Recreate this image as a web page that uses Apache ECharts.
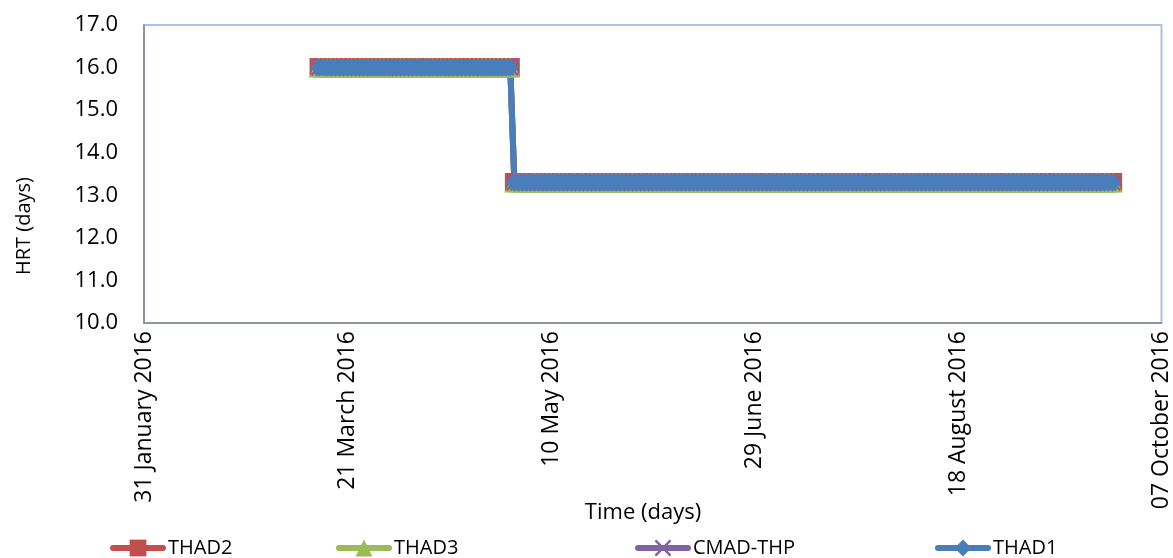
<!DOCTYPE html>
<html>
<head>
<meta charset="utf-8">
<script src="https://cdn.jsdelivr.net/npm/echarts@6/dist/echarts.min.js"></script>
<style>
  html, body { margin: 0; padding: 0; background: #ffffff; }
  #chart { width: 1173px; height: 558px; }
</style>
</head>
<body>
<div id="chart"></div>
<script>
// Time axis: day 0 is 31 January 2016, ticks every 50 days
const axisOrigin = '2016-01-31';
const xTickLabels = ['31 January 2016', '21 March 2016', '10 May 2016', '29 June 2016', '18 August 2016', '07 October 2016'];
const yTickLabels = ['10.0', '11.0', '12.0', '13.0', '14.0', '15.0', '16.0', '17.0'];

// Reactors shown in the legend, in drawing order
const reactorNames = ['THAD2', 'THAD3', 'CMAD-THP', 'THAD1'];

// Daily HRT record (days), first entry on 14 March 2016, last on 25 September 2016
const recordStart = '2016-03-14';
const hrtDaily = [
  16.0, 16.0, 16.0, 16.0, 16.0, 16.0, 16.0, 16.0,
  16.0, 16.0, 16.0, 16.0, 16.0, 16.0, 16.0, 16.0,
  16.0, 16.0, 16.0, 16.0, 16.0, 16.0, 16.0, 16.0,
  16.0, 16.0, 16.0, 16.0, 16.0, 16.0, 16.0, 16.0,
  16.0, 16.0, 16.0, 16.0, 16.0, 16.0, 16.0, 16.0,
  16.0, 16.0, 16.0, 16.0, 16.0, 16.0, 16.0, 16.0,
  13.3, 13.3, 13.3, 13.3, 13.3, 13.3, 13.3, 13.3,
  13.3, 13.3, 13.3, 13.3, 13.3, 13.3, 13.3, 13.3,
  13.3, 13.3, 13.3, 13.3, 13.3, 13.3, 13.3, 13.3,
  13.3, 13.3, 13.3, 13.3, 13.3, 13.3, 13.3, 13.3,
  13.3, 13.3, 13.3, 13.3, 13.3, 13.3, 13.3, 13.3,
  13.3, 13.3, 13.3, 13.3, 13.3, 13.3, 13.3, 13.3,
  13.3, 13.3, 13.3, 13.3, 13.3, 13.3, 13.3, 13.3,
  13.3, 13.3, 13.3, 13.3, 13.3, 13.3, 13.3, 13.3,
  13.3, 13.3, 13.3, 13.3, 13.3, 13.3, 13.3, 13.3,
  13.3, 13.3, 13.3, 13.3, 13.3, 13.3, 13.3, 13.3,
  13.3, 13.3, 13.3, 13.3, 13.3, 13.3, 13.3, 13.3,
  13.3, 13.3, 13.3, 13.3, 13.3, 13.3, 13.3, 13.3,
  13.3, 13.3, 13.3, 13.3, 13.3, 13.3, 13.3, 13.3,
  13.3, 13.3, 13.3, 13.3, 13.3, 13.3, 13.3, 13.3,
  13.3, 13.3, 13.3, 13.3, 13.3, 13.3, 13.3, 13.3,
  13.3, 13.3, 13.3, 13.3, 13.3, 13.3, 13.3, 13.3,
  13.3, 13.3, 13.3, 13.3, 13.3, 13.3, 13.3, 13.3,
  13.3, 13.3, 13.3, 13.3, 13.3, 13.3, 13.3, 13.3,
  13.3, 13.3, 13.3, 13.3
];

// All four reactors ran on the same HRT schedule
const hrtTHAD2 = hrtDaily;
const hrtTHAD3 = hrtDaily;
const hrtCMADTHP = hrtDaily;
const hrtTHAD1 = hrtDaily;

const DAY_MS = 864e5;
const startOffset = Math.round((Date.parse(recordStart) - Date.parse(axisOrigin)) / DAY_MS);
const toPoints = values => values.map((v, i) => [startOffset + i, v]);

const FONT = '"Open Sans", "Noto Sans", sans-serif';
const crossPath = 'path://M0,1 L1,0 L5,4 L9,0 L10,1 L6,5 L10,9 L9,10 L5,6 L1,10 L0,9 L4,5 Z';

const seriesStyles = [
  { name: reactorNames[0], values: hrtTHAD2, color: '#C0504D', symbol: 'rect', size: 19 },
  { name: reactorNames[1], values: hrtTHAD3, color: '#9BBB59', symbol: 'triangle', size: 20 },
  { name: reactorNames[2], values: hrtCMADTHP, color: '#8064A2', symbol: crossPath, size: 17 },
  { name: reactorNames[3], values: hrtTHAD1, color: '#4A7EBB', symbol: 'diamond', size: 18 }
];

const legendLeft = [110, 336, 635, 935];

const chart = echarts.init(document.getElementById('chart'), null, { renderer: 'canvas' });

chart.setOption({
  animation: false,
  backgroundColor: '#ffffff',
  textStyle: { fontFamily: FONT },
  grid: {
    left: 144, right: 11, top: 25, bottom: 235,
    show: true, borderColor: '#A9C2EA', borderWidth: 2, backgroundColor: 'transparent'
  },
  xAxis: {
    type: 'value',
    min: 0, max: 250, interval: 50,
    axisLine: { show: true, onZero: false, lineStyle: { color: '#888888', width: 1.5 } },
    axisTick: { show: false },
    splitLine: { show: false },
    axisLabel: {
      rotate: 90, margin: 8, color: '#000000', fontFamily: FONT, fontSize: 23,
      showMinLabel: true, showMaxLabel: true,
      formatter: v => xTickLabels[Math.round(v / 50)] || ''
    }
  },
  yAxis: {
    type: 'value',
    min: 10, max: 17, interval: 1,
    axisLine: { show: true, lineStyle: { color: '#888888', width: 1.5 } },
    axisTick: { show: false },
    splitLine: { show: false },
    axisLabel: {
      margin: 26, color: '#000000', fontFamily: FONT, fontSize: 22,
      formatter: v => yTickLabels[Math.round(v - 10)] || ''
    }
  },
  legend: seriesStyles.map((s, i) => ({
    data: [s.name],
    left: legendLeft[i], top: 538,
    padding: 0, itemWidth: 50, itemHeight: 21,
    lineStyle: { width: 6, cap: 'round' },
    textStyle: { fontFamily: FONT, fontSize: 20, color: '#000000' }
  })),
  graphic: [
    {
      type: 'text', x: 24, y: 226, rotation: Math.PI / 2,
      style: { text: 'HRT (days)', font: '20px ' + FONT, fill: '#000000', align: 'center', verticalAlign: 'middle' }
    },
    {
      type: 'text', x: 643, y: 513,
      style: { text: 'Time (days)', font: '22px ' + FONT, fill: '#000000', align: 'center', verticalAlign: 'middle' }
    }
  ],
  series: seriesStyles.map(s => ({
    name: s.name,
    type: 'line',
    data: toPoints(s.values),
    symbol: s.symbol,
    symbolSize: s.size,
    showAllSymbol: true,
    color: s.color,
    itemStyle: { color: s.color },
    lineStyle: { color: s.color, width: 6 },
    emphasis: { disabled: true }
  }))
});
</script>
</body>
</html>
